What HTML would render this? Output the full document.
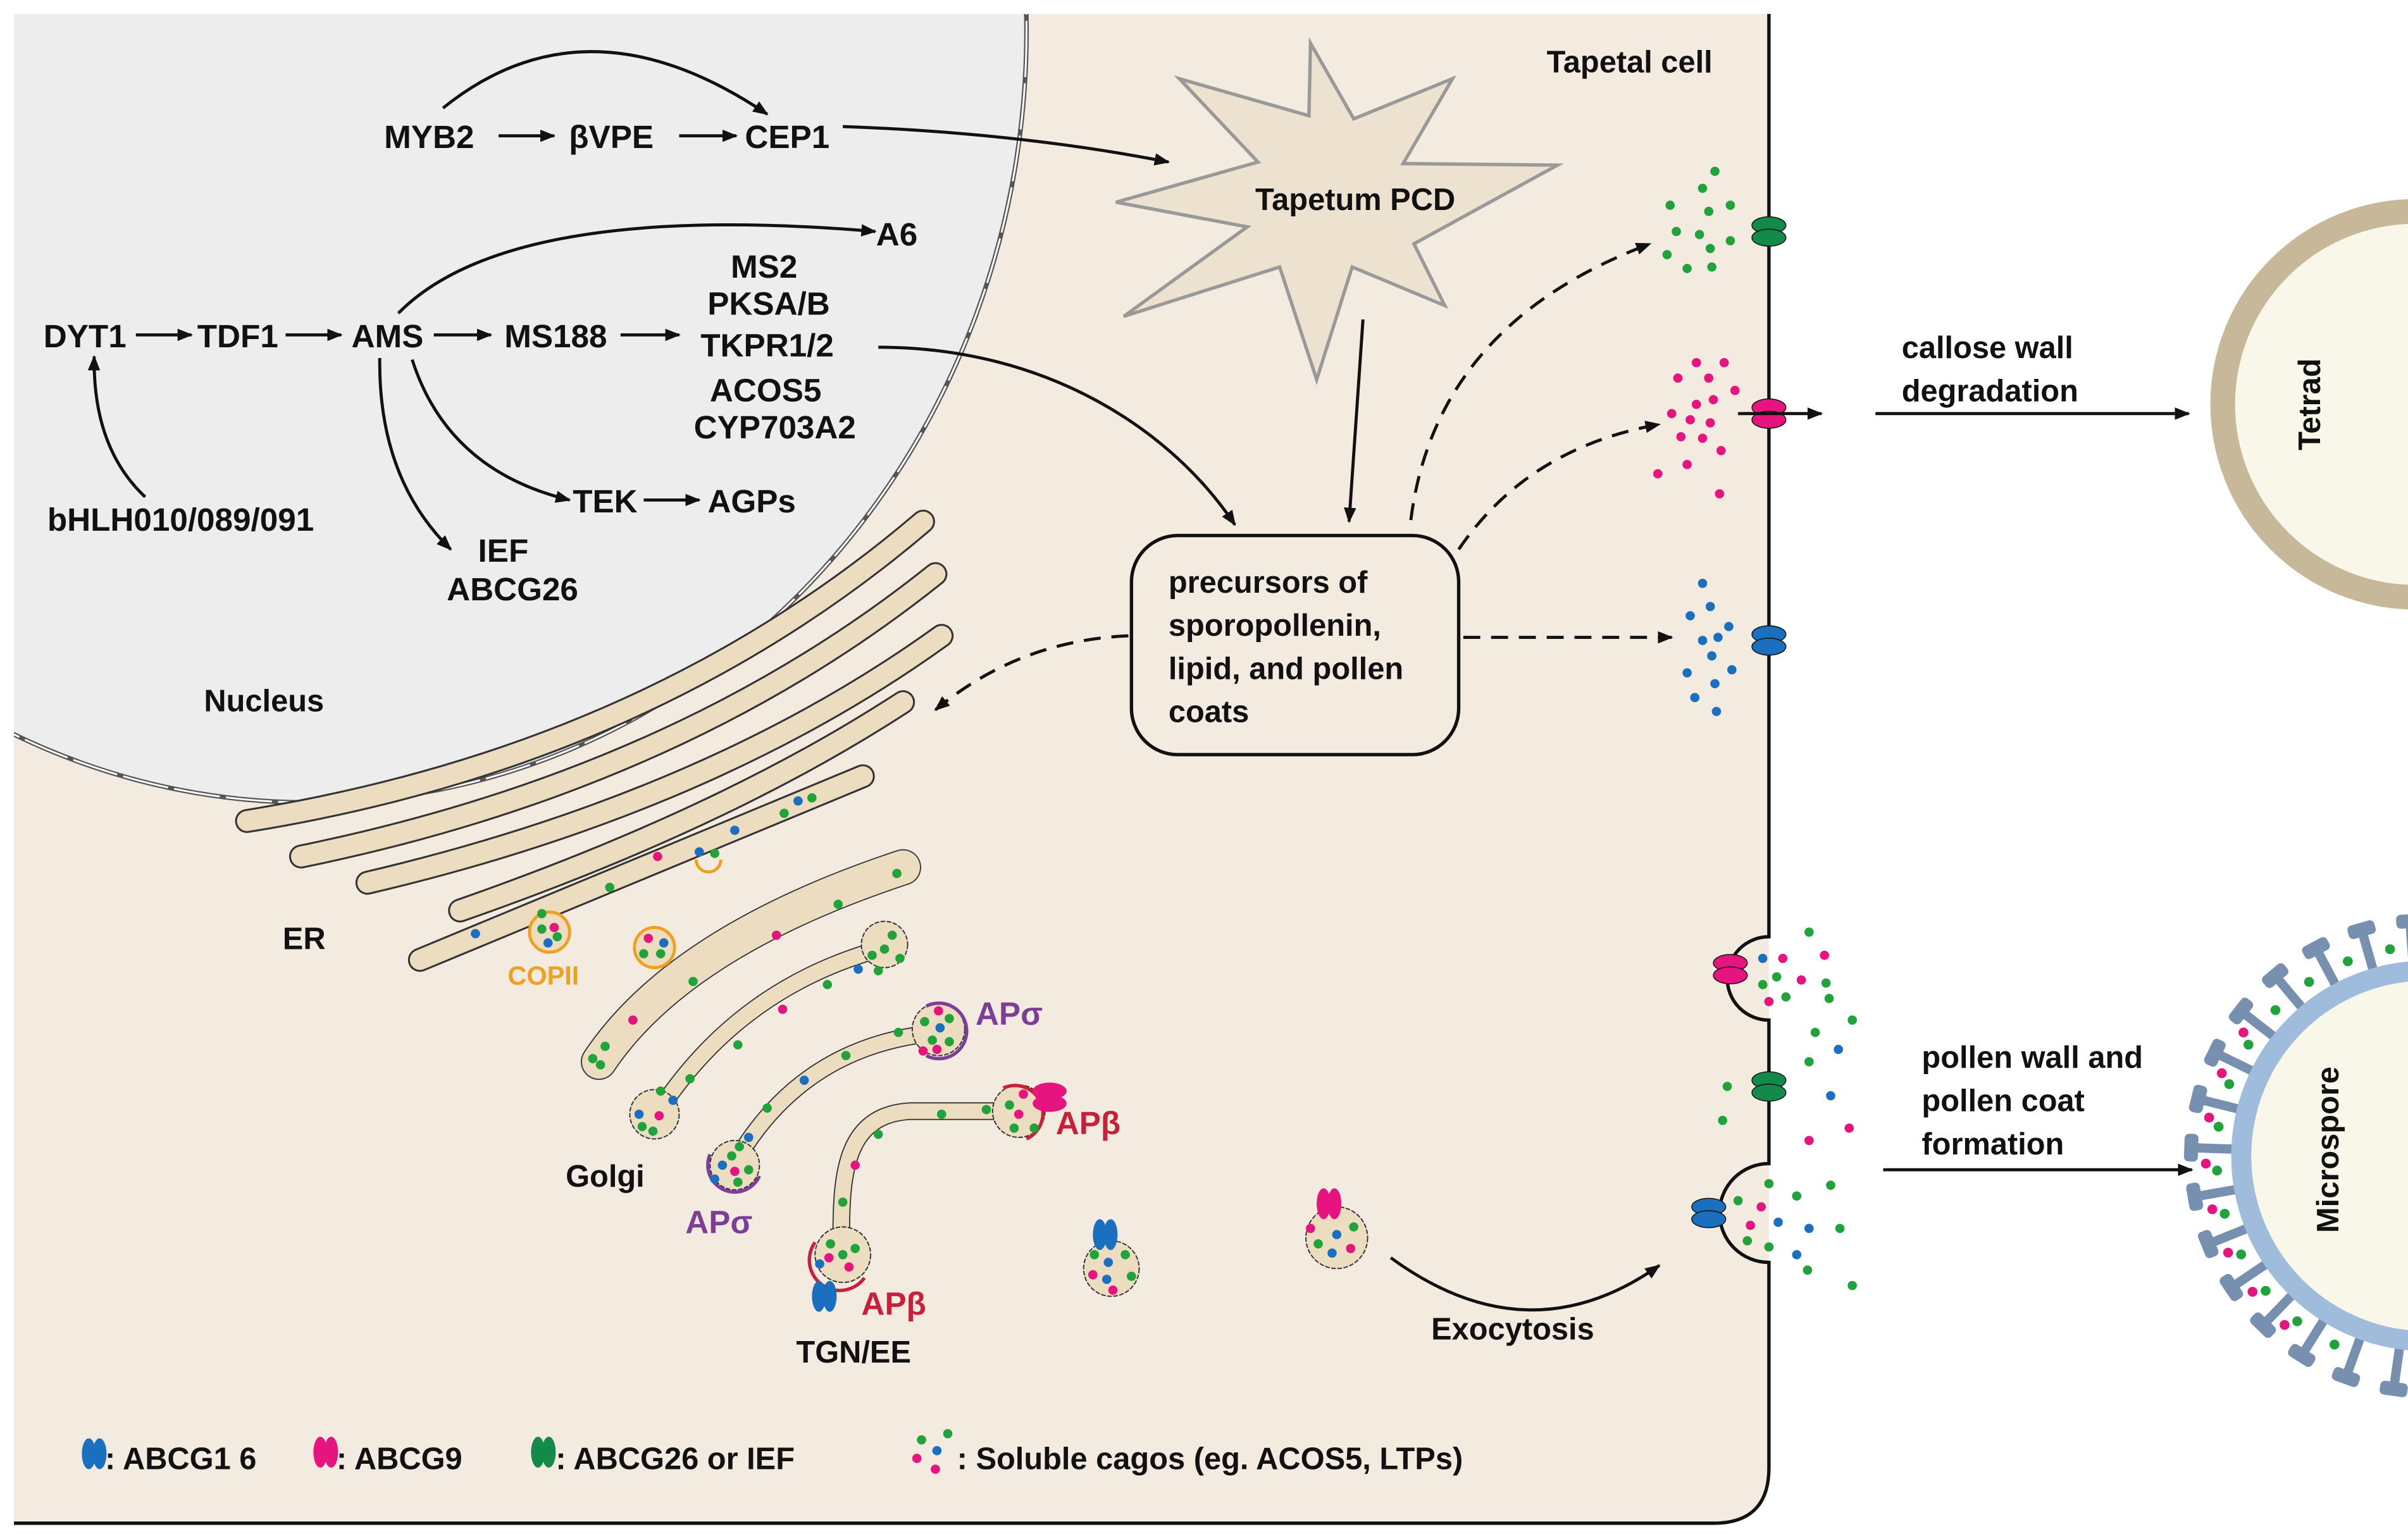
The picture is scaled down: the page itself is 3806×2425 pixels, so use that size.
<!DOCTYPE html>
<html><head><meta charset="utf-8"><style>
html,body{margin:0;padding:0;background:#fff}
svg{display:block}
text{font-family:"Liberation Sans",Arial,sans-serif;font-weight:bold;fill:#111}
</style></head><body>
<svg width="3806" height="2425" viewBox="0 0 1560 994" xmlns="http://www.w3.org/2000/svg">
<defs>
<marker id="ah" viewBox="0 0 10 10" refX="9" refY="5" markerWidth="5" markerHeight="5" orient="auto"><path d="M0,1 L10,5 L0,9 z" fill="#111"/></marker>
<clipPath id="cell"><rect x="9" y="9" width="1137" height="978"/></clipPath>
<g id="tp"><ellipse cx="0" cy="-4" rx="11" ry="5.5"/><ellipse cx="0" cy="4" rx="11" ry="5.5"/></g>
<g id="tv"><ellipse cx="-3.5" cy="0" rx="4.5" ry="10"/><ellipse cx="3.5" cy="0" rx="4.5" ry="10"/></g>
</defs>

<path d="M9,9 H1146 V951 Q1146,987 1110,987 H9 Z" fill="#f3ebdf"/>
<path d="M1146,9 V607 A27,27 0 0 0 1146,661 V754 A32,32 0 0 0 1146,818 V951 Q1146,987 1110,987 H9" fill="none" stroke="#111" stroke-width="2.2"/>

<g clip-path="url(#cell)">
<ellipse cx="200" cy="20" rx="465" ry="500" fill="#ededed" stroke="#555" stroke-width="3"/>
<ellipse cx="200" cy="20" rx="465" ry="500" fill="none" stroke="#fff" stroke-width="1.2" stroke-dasharray="30 4"/>
</g>

<g fill="none" stroke-linecap="round">
<g stroke="#333" stroke-width="15.5">
<path d="M160,532 Q420,490 598,338"/>
<path d="M195,555 Q440,505 606,372"/>
<path d="M238,572 Q460,520 610,412"/>
<path d="M298,590 Q470,530 585,455"/>
<path d="M272,622 Q420,560 559,503"/>
</g>
<g stroke="#ecdcc0" stroke-width="13">
<path d="M160,532 Q420,490 598,338"/>
<path d="M195,555 Q440,505 606,372"/>
<path d="M238,572 Q460,520 610,412"/>
<path d="M298,590 Q470,530 585,455"/>
<path d="M272,622 Q420,560 559,503"/>
</g>
<g stroke="#333">
<path d="M388,688 Q440,610 585,562" stroke-width="23.5"/>
<path d="M428,718 Q480,640 570,615" stroke-width="11.5"/>
<path d="M478,750 Q520,680 600,670" stroke-width="11.5"/>
<path d="M545,800 C545,760 548,722 590,720 L650,720" stroke-width="11.5"/>
</g>
<g stroke="#ecdcc0">
<path d="M388,688 Q440,610 585,562" stroke-width="22"/>
<path d="M428,718 Q480,640 570,615" stroke-width="10"/>
<path d="M478,750 Q520,680 600,670" stroke-width="10"/>
<path d="M545,800 C545,760 548,722 590,720 L650,720" stroke-width="10"/>
</g>
</g>
<g fill="#ecdcc0" stroke="#333" stroke-width="0.8" stroke-dasharray="3 1">
<circle cx="424" cy="722" r="16"/><circle cx="573" cy="612" r="15"/>
<circle cx="476" cy="755" r="16"/><circle cx="608" cy="667" r="17"/>
<circle cx="546" cy="813" r="18"/><circle cx="660" cy="720" r="17"/>
<circle cx="720" cy="822" r="18"/><circle cx="866" cy="802" r="20"/>
</g>
<circle cx="356" cy="604" r="13" fill="#ecdcc0" stroke="#f0a020" stroke-width="2"/>
<circle cx="424" cy="614" r="13" fill="#ecdcc0" stroke="#f0a020" stroke-width="2"/>
<path d="M451,557 A8,8 0 0 0 467,557" fill="none" stroke="#f0a020" stroke-width="2"/>
<path d="M600,652 A18,18 0 1 1 600,684" fill="none" stroke="#7b3f98" stroke-width="2.2"/>
<path d="M460,748 A17,17 0 0 0 492,762" fill="none" stroke="#7b3f98" stroke-width="2.2"/>
<path d="M650,705 A18,18 0 1 1 665,738" fill="none" stroke="#c8203a" stroke-width="2.2"/>
<path d="M528,805 A19,19 0 0 0 560,828" fill="none" stroke="#c8203a" stroke-width="2.2"/>

<g fill="#1fa33a">
<circle cx="526" cy="517" r="3"/><circle cx="508" cy="527" r="3"/><circle cx="463" cy="553" r="3"/><circle cx="395" cy="575" r="3"/>
<circle cx="351" cy="592" r="3"/><circle cx="351" cy="602" r="3"/><circle cx="361" cy="607" r="3"/><circle cx="417" cy="618" r="3"/><circle cx="428" cy="618" r="3"/>
<circle cx="581" cy="566" r="3"/><circle cx="543" cy="586" r="3"/><circle cx="449" cy="636" r="3"/><circle cx="392" cy="678" r="3"/><circle cx="384" cy="686" r="3"/><circle cx="389" cy="690" r="3"/>
<circle cx="578" cy="606" r="3"/><circle cx="565" cy="619" r="3"/><circle cx="573" cy="615" r="3"/><circle cx="583" cy="621" r="3"/><circle cx="569" cy="629" r="3"/><circle cx="536" cy="638" r="3"/><circle cx="478" cy="677" r="3"/><circle cx="447" cy="699" r="3"/><circle cx="428" cy="707" r="3"/><circle cx="416" cy="730" r="3"/><circle cx="423" cy="733" r="3"/>
<circle cx="599" cy="662" r="3"/><circle cx="615" cy="660" r="3"/><circle cx="604" cy="674" r="3"/><circle cx="615" cy="675" r="3"/><circle cx="582" cy="669" r="3"/><circle cx="548" cy="684" r="3"/><circle cx="497" cy="718" r="3"/><circle cx="479" cy="743" r="3"/><circle cx="474" cy="749" r="3"/><circle cx="485" cy="758" r="3"/><circle cx="478" cy="766" r="3"/>
<circle cx="654" cy="716" r="3"/><circle cx="670" cy="731" r="3"/><circle cx="657" cy="731" r="3"/><circle cx="639" cy="719" r="3"/><circle cx="610" cy="722" r="3"/><circle cx="569" cy="735" r="3"/><circle cx="546" cy="779" r="3"/><circle cx="538" cy="806" r="3"/><circle cx="554" cy="809" r="3"/><circle cx="546" cy="813" r="3"/>
<circle cx="709" cy="813" r="3"/><circle cx="729" cy="813" r="3"/><circle cx="733" cy="827" r="3"/>
<circle cx="877" cy="795" r="3"/><circle cx="854" cy="806" r="3"/>
<circle cx="1111" cy="111" r="3"/><circle cx="1103" cy="122" r="3"/><circle cx="1082" cy="133" r="3"/><circle cx="1107" cy="137" r="3"/><circle cx="1121" cy="133" r="3"/><circle cx="1086" cy="150" r="3"/><circle cx="1101" cy="152" r="3"/><circle cx="1121" cy="156" r="3"/><circle cx="1108" cy="161" r="3"/><circle cx="1080" cy="165" r="3"/><circle cx="1093" cy="174" r="3"/><circle cx="1109" cy="173" r="3"/>
<circle cx="1172" cy="604" r="3"/><circle cx="1151" cy="633" r="3"/><circle cx="1183" cy="637" r="3"/><circle cx="1142" cy="638" r="3"/><circle cx="1157" cy="646" r="3"/><circle cx="1185" cy="647" r="3"/><circle cx="1200" cy="661" r="3"/><circle cx="1176" cy="669" r="3"/><circle cx="1172" cy="688" r="3"/><circle cx="1119" cy="704" r="3"/><circle cx="1116" cy="726" r="3"/><circle cx="1146" cy="767" r="3"/><circle cx="1186" cy="768" r="3"/><circle cx="1164" cy="775" r="3"/><circle cx="1126" cy="778" r="3"/><circle cx="1192" cy="796" r="3"/><circle cx="1132" cy="804" r="3"/><circle cx="1146" cy="808" r="3"/><circle cx="1171" cy="823" r="3"/><circle cx="1200" cy="833" r="3"/>
<circle cx="597" cy="933" r="3"/><circle cx="614" cy="929" r="3"/>
</g>
<g fill="#e6147f">
<circle cx="426" cy="555" r="3"/><circle cx="359" cy="601" r="3"/><circle cx="420" cy="608" r="3"/><circle cx="503" cy="606" r="3"/><circle cx="410" cy="661" r="3"/><circle cx="507" cy="654" r="3"/><circle cx="427" cy="723" r="3"/>
<circle cx="608" cy="655" r="3"/><circle cx="598" cy="681" r="3"/><circle cx="607" cy="680" r="3"/><circle cx="476" cy="759" r="3"/>
<circle cx="663" cy="709" r="3"/><circle cx="660" cy="722" r="3"/><circle cx="554" cy="755" r="3"/><circle cx="537" cy="815" r="3"/><circle cx="550" cy="821" r="3"/>
<circle cx="708" cy="826" r="3"/><circle cx="721" cy="836" r="3"/><circle cx="849" cy="796" r="3"/><circle cx="875" cy="809" r="3"/>
<circle cx="1099" cy="235" r="3"/><circle cx="1117" cy="235" r="3"/><circle cx="1087" cy="245" r="3"/><circle cx="1107" cy="245" r="3"/><circle cx="1124" cy="253" r="3"/><circle cx="1110" cy="259" r="3"/><circle cx="1099" cy="262" r="3"/><circle cx="1083" cy="268" r="3"/><circle cx="1095" cy="272" r="3"/><circle cx="1108" cy="274" r="3"/><circle cx="1089" cy="283" r="3"/><circle cx="1103" cy="284" r="3"/><circle cx="1115" cy="292" r="3"/><circle cx="1093" cy="301" r="3"/><circle cx="1074" cy="307" r="3"/><circle cx="1114" cy="320" r="3"/>
<circle cx="1155" cy="621" r="3"/><circle cx="1182" cy="619" r="3"/><circle cx="1167" cy="635" r="3"/><circle cx="1146" cy="649" r="3"/><circle cx="1198" cy="731" r="3"/><circle cx="1172" cy="739" r="3"/><circle cx="1141" cy="782" r="3"/><circle cx="1134" cy="794" r="3"/>
<circle cx="594" cy="945" r="3"/><circle cx="606" cy="952" r="3"/>
</g>
<g fill="#1a6fbf">
<circle cx="517" cy="519" r="3"/><circle cx="476" cy="538" r="3"/><circle cx="453" cy="552" r="3"/><circle cx="308" cy="605" r="3"/><circle cx="355" cy="611" r="3"/><circle cx="430" cy="611" r="3"/>
<circle cx="556" cy="628" r="3"/><circle cx="436" cy="713" r="3"/><circle cx="414" cy="722" r="3"/><circle cx="609" cy="666" r="3"/><circle cx="521" cy="700" r="3"/><circle cx="485" cy="737" r="3"/><circle cx="468" cy="755" r="3"/><circle cx="463" cy="764" r="3"/><circle cx="531" cy="819" r="3"/>
<circle cx="718" cy="818" r="3"/><circle cx="717" cy="829" r="3"/><circle cx="866" cy="800" r="3"/><circle cx="863" cy="812" r="3"/>
<circle cx="1103" cy="378" r="3"/><circle cx="1108" cy="393" r="3"/><circle cx="1095" cy="399" r="3"/><circle cx="1120" cy="406" r="3"/><circle cx="1113" cy="413" r="3"/><circle cx="1103" cy="415" r="3"/><circle cx="1109" cy="425" r="3"/><circle cx="1093" cy="436" r="3"/><circle cx="1122" cy="434" r="3"/><circle cx="1111" cy="443" r="3"/><circle cx="1098" cy="452" r="3"/><circle cx="1112" cy="461" r="3"/>
<circle cx="1142" cy="621" r="3"/><circle cx="1191" cy="680" r="3"/><circle cx="1186" cy="710" r="3"/><circle cx="1152" cy="792" r="3"/><circle cx="1172" cy="796" r="3"/><circle cx="1164" cy="813" r="3"/>
<circle cx="607" cy="940" r="3"/>
</g>

<use href="#tp" x="1146" y="150" fill="#138a4a" stroke="#111" stroke-width="0.6"/>
<use href="#tp" x="1146" y="268" fill="#e6147f" stroke="#111" stroke-width="0.6"/>
<use href="#tp" x="1146" y="415" fill="#1a6fbf" stroke="#111" stroke-width="0.6"/>
<use href="#tp" x="1146" y="704" fill="#138a4a" stroke="#111" stroke-width="0.6"/>
<use href="#tp" x="1121" y="628" fill="#e6147f" stroke="#111" stroke-width="0.6"/>
<use href="#tp" x="1107" y="786" fill="#1a6fbf" stroke="#111" stroke-width="0.6"/>
<use href="#tv" x="716" y="800" fill="#1a6fbf"/>
<use href="#tv" x="861" y="780" fill="#e6147f"/>
<use href="#tv" x="534" y="840" fill="#1a6fbf"/>
<use href="#tp" x="680" y="711" fill="#e6147f"/>
<use href="#tv" x="61" y="942" fill="#1a6fbf"/>
<use href="#tv" x="211" y="941" fill="#e6147f"/>
<use href="#tv" x="352" y="941" fill="#138a4a"/>

<polygon points="849,28 877,77 941,51 909,106 1009,107 916,158 936,198 876,173 853,246 829,173 728,205 808,147 723,131 815,105 764,51 848,75" fill="#ede2cf" stroke="#999" stroke-width="2.2"/>
<text x="878" y="136" font-size="20" text-anchor="middle">Tapetum PCD</text>

<rect x="733" y="347" width="212" height="142" rx="30" fill="#f3ebdf" stroke="#111" stroke-width="2.2"/>
<g font-size="20">
<text x="757" y="384">precursors of</text>
<text x="757" y="412">sporopollenin,</text>
<text x="757" y="440">lipid,  and pollen</text>
<text x="757" y="468">coats</text>
</g>

<g fill="none" stroke="#111" stroke-width="2" marker-end="url(#ah)">
<path d="M287,70 Q380,-5 497,74"/>
<path d="M323,88 H359"/><path d="M440,88 H477"/>
<path d="M546,82 Q660,86 757,105"/>
<path d="M258,203 Q330,130 567,150"/>
<path d="M88,217 H124"/><path d="M185,217 H221"/><path d="M281,217 H318"/><path d="M402,217 H440"/>
<path d="M569,225 C680,225 760,280 800,340"/>
<path d="M94,322 Q60,290 61,231"/>
<path d="M246,232 Q245,310 292,356"/>
<path d="M267,233 Q290,305 369,324"/>
<path d="M417,324 H453"/>
<path d="M883,207 L874,338"/>
<path d="M1126,268 H1180"/>
<path d="M1215,268 H1418"/>
<path d="M1220,758 H1420"/>
<path d="M901,815 Q990,880 1075,820"/>
</g>
<g fill="none" stroke="#111" stroke-width="2" stroke-dasharray="11 7" marker-end="url(#ah)">
<path d="M914,337 Q930,210 1069,158"/>
<path d="M945,356 Q990,290 1075,275"/>
<path d="M948,413 H1083"/>
<path d="M731,412 Q660,415 606,460"/>
</g>

<g font-size="21" text-anchor="middle">
<text x="278" y="96">MYB2</text><text x="396" y="96">βVPE</text><text x="510" y="96">CEP1</text>
<text x="581" y="159">A6</text>
<text x="55" y="225">DYT1</text><text x="154" y="225">TDF1</text><text x="251" y="225">AMS</text><text x="360" y="225">MS188</text>
<text x="495" y="180">MS2</text><text x="498" y="204">PKSA/B</text><text x="497" y="231">TKPR1/2</text><text x="496" y="260">ACOS5</text><text x="502" y="284">CYP703A2</text>
<text x="117" y="344">bHLH010/089/091</text>
<text x="392" y="332">TEK</text><text x="487" y="332">AGPs</text>
<text x="326" y="364">IEF</text><text x="332" y="389">ABCG26</text>
<text x="171" y="461" font-size="20">Nucleus</text>
<text x="197" y="615" font-size="20">ER</text>
<text x="352" y="638" font-size="17" style="fill:#f0a020">COPII</text>
<text x="392" y="769" font-size="20">Golgi</text>
<text x="553" y="883" font-size="20">TGN/EE</text>
<text x="980" y="868" font-size="20">Exocytosis</text>
</g>
<g font-size="21">
<text x="632" y="664" style="fill:#7b3f98">APσ</text>
<text x="444" y="799" style="fill:#7b3f98">APσ</text>
<text x="684" y="735" style="fill:#c8203a">APβ</text>
<text x="558" y="852" style="fill:#c8203a">APβ</text>
</g>
<text x="1002" y="47" font-size="20">Tapetal cell</text>

<g font-size="20">
<text x="68" y="952">: ABCG1 6</text>
<text x="218" y="952">: ABCG9</text>
<text x="360" y="952">: ABCG26 or IEF</text>
<text x="620" y="952">: Soluble cagos (eg. ACOS5, LTPs)</text>
</g>

<g font-size="20">
<text x="1232" y="232">callose wall</text>
<text x="1232" y="260">degradation</text>
<text x="1245" y="692">pollen wall and</text>
<text x="1245" y="720">pollen coat</text>
<text x="1245" y="748">formation</text>
</g>
<circle cx="1565" cy="262" r="125" fill="#f9f7ea" stroke="#c8b89a" stroke-width="16"/>
<text x="0" y="0" font-size="20" transform="translate(1503,262) rotate(-90)" text-anchor="middle">Tetrad</text>

<g fill="#7890b0">
<g transform="translate(1572,749)">
<g transform="rotate(-82)"><rect x="-152" y="-3" width="26" height="6"/><rect x="-157" y="-9" width="9" height="18" rx="3"/></g>
<g transform="rotate(-70)"><rect x="-152" y="-3" width="26" height="6"/><rect x="-157" y="-9" width="9" height="18" rx="3"/></g>
<g transform="rotate(-58)"><rect x="-152" y="-3" width="26" height="6"/><rect x="-157" y="-9" width="9" height="18" rx="3"/></g>
<g transform="rotate(-46)"><rect x="-152" y="-3" width="26" height="6"/><rect x="-157" y="-9" width="9" height="18" rx="3"/></g>
<g transform="rotate(-34)"><rect x="-152" y="-3" width="26" height="6"/><rect x="-157" y="-9" width="9" height="18" rx="3"/></g>
<g transform="rotate(-22)"><rect x="-152" y="-3" width="26" height="6"/><rect x="-157" y="-9" width="9" height="18" rx="3"/></g>
<g transform="rotate(-10)"><rect x="-152" y="-3" width="26" height="6"/><rect x="-157" y="-9" width="9" height="18" rx="3"/></g>
<g transform="rotate(2)"><rect x="-152" y="-3" width="26" height="6"/><rect x="-157" y="-9" width="9" height="18" rx="3"/></g>
<g transform="rotate(14)"><rect x="-152" y="-3" width="26" height="6"/><rect x="-157" y="-9" width="9" height="18" rx="3"/></g>
<g transform="rotate(26)"><rect x="-152" y="-3" width="26" height="6"/><rect x="-157" y="-9" width="9" height="18" rx="3"/></g>
<g transform="rotate(38)"><rect x="-152" y="-3" width="26" height="6"/><rect x="-157" y="-9" width="9" height="18" rx="3"/></g>
<g transform="rotate(50)"><rect x="-152" y="-3" width="26" height="6"/><rect x="-157" y="-9" width="9" height="18" rx="3"/></g>
<g transform="rotate(62)"><rect x="-152" y="-3" width="26" height="6"/><rect x="-157" y="-9" width="9" height="18" rx="3"/></g>
<g transform="rotate(74)"><rect x="-152" y="-3" width="26" height="6"/><rect x="-157" y="-9" width="9" height="18" rx="3"/></g>
<g transform="rotate(86)"><rect x="-152" y="-3" width="26" height="6"/><rect x="-157" y="-9" width="9" height="18" rx="3"/></g>
</g>
</g>
<g transform="translate(1572,749)">
<g fill="#1fa33a">
<circle cx="-136" cy="0" r="3.2" transform="rotate(-64)"/><circle cx="-136" cy="0" r="3.2" transform="rotate(-52)"/><circle cx="-136" cy="0" r="3.2" transform="rotate(-40)"/><circle cx="-136" cy="0" r="3.2" transform="rotate(-28)"/><circle cx="-136" cy="0" r="3.2" transform="rotate(-16)"/><circle cx="-136" cy="0" r="3.2" transform="rotate(-4)"/><circle cx="-136" cy="0" r="3.2" transform="rotate(8)"/><circle cx="-136" cy="0" r="3.2" transform="rotate(20)"/><circle cx="-136" cy="0" r="3.2" transform="rotate(32)"/><circle cx="-136" cy="0" r="3.2" transform="rotate(44)"/><circle cx="-136" cy="0" r="3.2" transform="rotate(56)"/><circle cx="-136" cy="0" r="3.2" transform="rotate(68)"/><circle cx="-136" cy="0" r="3.2" transform="rotate(80)"/>
</g>
<g fill="#e6147f">
<circle cx="-143" cy="0" r="3.2" transform="rotate(-50)"/><circle cx="-143" cy="0" r="3.2" transform="rotate(-38)"/><circle cx="-143" cy="0" r="3.2" transform="rotate(-26)"/><circle cx="-143" cy="0" r="3.2" transform="rotate(-14)"/><circle cx="-143" cy="0" r="3.2" transform="rotate(-2)"/><circle cx="-143" cy="0" r="3.2" transform="rotate(10)"/><circle cx="-143" cy="0" r="3.2" transform="rotate(22)"/><circle cx="-143" cy="0" r="3.2" transform="rotate(34)"/>
</g>
</g>
<circle cx="1572" cy="749" r="120" fill="#f9f7ea" stroke="#a0bcdc" stroke-width="13"/>
<text x="0" y="0" font-size="20" transform="translate(1515,745) rotate(-90)" text-anchor="middle">Microspore</text>
</svg>
</body></html>
